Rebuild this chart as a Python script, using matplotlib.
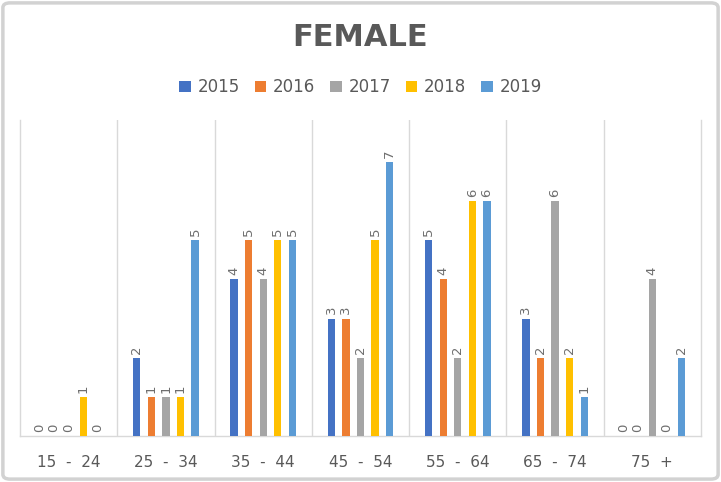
import numpy as np
import matplotlib
matplotlib.use("Agg")
import matplotlib.pyplot as plt
from matplotlib.patches import FancyBboxPatch

# === DATA ===
age_groups = ["15  -  24", "25  -  34", "35  -  44", "45  -  54", "55  -  64", "65  -  74", "75  +"]
years = ["2015", "2016", "2017", "2018", "2019"]
v2015 = [0, 2, 4, 3, 5, 3, 0]
v2016 = [0, 1, 5, 3, 4, 2, 0]
v2017 = [0, 1, 4, 2, 2, 6, 4]
v2018 = [1, 1, 5, 5, 6, 2, 0]
v2019 = [0, 5, 5, 7, 6, 1, 2]
series = [v2015, v2016, v2017, v2018, v2019]
colors = ["#4472C4", "#ED7D31", "#A5A5A5", "#FFC000", "#5B9BD5"]

TEXT = "#595959"
GRID = "#D9D9D9"

# === FIGURE ===
fig = plt.figure(figsize=(7.21, 4.82), dpi=100)

# outer frame (drawn behind everything)
frame = FancyBboxPatch((0.004, 0.006), 0.992, 0.988,
                       boxstyle="round,pad=0,rounding_size=0.01",
                       transform=fig.transFigure, facecolor="white",
                       edgecolor="#D2D2D2", linewidth=2.5, zorder=-10)
fig.patches.append(frame)

ax = fig.add_axes([20 / 721, (482 - 436) / 482, 681 / 721, 316 / 482])
ax.set_facecolor("none")
ax.set_zorder(1)

x = np.arange(len(age_groups))
step = 0.15
width = 0.075
for i, (vals, col, yr) in enumerate(zip(series, colors, years)):
    pos = x + (i - 2) * step
    bars = ax.bar(pos, vals, width=width, color=col, label=yr, zorder=3)
    for b, v in zip(bars, vals):
        ax.annotate(str(v), (b.get_x() + b.get_width() / 2, v),
                    xytext=(0, 3), textcoords="offset points",
                    ha="center", va="bottom", rotation=90,
                    fontsize=9.5, color="#6E6E6E")

ax.set_xlim(-0.5, len(age_groups) - 0.5)
ax.set_ylim(0, 8.07)
ax.set_yticks([])
ax.set_xticks(x)
ax.set_xticklabels(age_groups, fontsize=11, color=TEXT)
ax.tick_params(axis="x", length=0, pad=14)

# vertical separators between categories
for k in range(1, len(age_groups)):
    ax.axvline(k - 0.5, color=GRID, lw=1, zorder=1)
for s in ["left", "right", "bottom"]:
    ax.spines[s].set_color(GRID)
    ax.spines[s].set_linewidth(1)
ax.spines["top"].set_visible(False)

fig.text(0.5, 0.922, "FEMALE", ha="center", va="center",
         fontsize=22, fontweight="bold", color=TEXT)

leg = fig.legend(loc="center", bbox_to_anchor=(0.5, 0.819), ncol=5,
                 frameon=False, fontsize=12, handlelength=0.7,
                 handleheight=0.7, handletextpad=0.4, columnspacing=0.9,
                 labelcolor=TEXT)

fig.savefig("out.png", dpi=100)
